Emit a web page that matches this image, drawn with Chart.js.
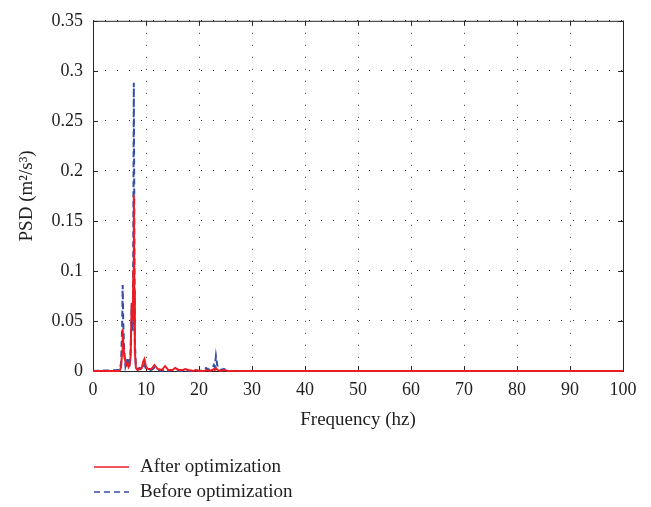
<!DOCTYPE html>
<html>
<head>
<meta charset="utf-8">
<script src="https://cdn.jsdelivr.net/npm/chart.js@4.4.0/dist/chart.umd.min.js"></script>
<style>
  html, body { margin: 0; padding: 0; background: #fff; }
  #wrap { width: 651px; height: 507px; }
</style>
</head>
<body>
<div id="wrap"><canvas id="psd-chart" width="651" height="507"></canvas></div>
<script>
// frequency (hz) and PSD values
let freq = [0, 5.0, 5.3, 5.5, 5.6, 5.7, 5.9, 6.1, 6.3, 6.5, 6.7, 6.9, 7.1, 7.3, 7.5, 7.6, 7.7, 7.8, 7.9, 8.1,
            8.4, 8.8, 9.2, 9.5, 9.7, 10.0, 10.4, 11.0, 11.6, 12.2, 13.0, 13.6, 14.2, 15.0, 15.5, 16.2, 17.0, 17.4, 18.0, 19.0,
            19.3, 20.0, 21.0, 21.3, 22.0, 22.5, 22.8, 23.0, 23.2, 23.5, 24.0, 24.7, 25.5, 30, 40, 50, 60, 70, 80, 90, 100];
let afterOpt = [0, 0, 0.004, 0.02, 0.042, 0.03, 0.015, 0.01, 0.006, 0.008, 0.004, 0.006, 0.015, 0.068, 0.05, 0.1, 0.176, 0.08, 0.02, 0.003,
                0.001, 0.002, 0.003, 0.01, 0.012, 0.004, 0.002, 0.002, 0.006, 0.002, 0.001, 0.005, 0.001, 0.001, 0.003, 0.001, 0.001, 0.002, 0.001, 0,
                0.001, 0, 0, 0.001, 0, 0.001, 0.002, 0.001, 0.003, 0.001, 0, 0.001, 0, 0, 0, 0, 0, 0, 0, 0, 0];
let beforeOpt = [0, 0.001, 0.008, 0.045, 0.086, 0.05, 0.02, 0.006, 0.013, 0.004, 0.013, 0.003, 0.02, 0.066, 0.04, 0.12, 0.288, 0.15, 0.03, 0.004,
                 0.002, 0.003, 0.001, 0.004, 0.006, 0.002, 0.001, 0.001, 0.003, 0.001, 0, 0.002, 0, 0.001, 0.001, 0, 0, 0.001, 0, 0,
                 0.001, 0, 0.001, 0.003, 0.001, 0.003, 0.006, 0.004, 0.015, 0.004, 0.001, 0.002, 0, 0, 0, 0, 0, 0, 0, 0, 0];
let xTicks = [0, 10, 20, 30, 40, 50, 60, 70, 80, 90, 100];
let yTicks = [0, 0.05, 0.1, 0.15, 0.2, 0.25, 0.3, 0.35];
let seriesNames = ['After optimization', 'Before optimization'];

const serif = '"Liberation Serif", "DejaVu Serif", serif';
const ink = '#1e1e1e';

function toPoints(ys) {
    return freq.map((f, i) => ({ x: f, y: ys[i] }));
}

// box round the plot with small inward ticks, matlab style
const boxTicks = {
    id: 'boxTicks',
    beforeDatasetsDraw(chart) {
        const { ctx, chartArea: a, scales } = chart;
        ctx.save();
        ctx.strokeStyle = '#262626';
        ctx.lineWidth = 1;
        ctx.strokeRect(a.left + 0.5, a.top + 0.5, a.right - a.left, a.bottom - a.top);
        ctx.beginPath();
        scales.x.ticks.forEach(t => {
            let px = Math.round(scales.x.getPixelForValue(t.value)) + 0.5;
            ctx.moveTo(px, a.bottom); ctx.lineTo(px, a.bottom - 5);
            ctx.moveTo(px, a.top); ctx.lineTo(px, a.top + 5);
        });
        scales.y.ticks.forEach(t => {
            let py = Math.round(scales.y.getPixelForValue(t.value)) + 0.5;
            ctx.moveTo(a.left, py); ctx.lineTo(a.left + 5, py);
            ctx.moveTo(a.right, py); ctx.lineTo(a.right - 5, py);
        });
        ctx.stroke();
        ctx.restore();
    }
};

// legend stacked under the axis, left side
const legendBelow = {
    id: 'legendBelow',
    afterDraw(chart) {
        const ctx = chart.ctx;
        ctx.save();
        chart.data.datasets.forEach((ds, i) => {
            let y = 467 + i * 25;
            ctx.strokeStyle = ds.borderColor;
            ctx.lineWidth = 1.5;
            ctx.setLineDash(ds.borderDash || []);
            ctx.beginPath();
            ctx.moveTo(94, y);
            ctx.lineTo(129, y);
            ctx.stroke();
            ctx.setLineDash([]);
            ctx.fillStyle = ink;
            ctx.font = '19px ' + serif;
            ctx.textBaseline = 'middle';
            ctx.fillText(ds.label, 140, y);
        });
        ctx.restore();
    }
};

new Chart('psd-chart', {
    type: 'line',
    data: {
        datasets: [
            {
                label: seriesNames[0],
                data: toPoints(afterOpt),
                borderColor: 'rgb(236, 28, 36)',
                borderWidth: 2,
                pointRadius: 0,
                tension: 0,
                clip: 3
            },
            {
                label: seriesNames[1],
                data: toPoints(beforeOpt),
                borderColor: 'rgb(52, 78, 168)',
                borderWidth: 2,
                borderDash: [6, 4],
                pointRadius: 0,
                tension: 0,
                clip: 3
            }
        ]
    },
    options: {
        responsive: false,
        animation: false,
        layout: { padding: { left: 0, right: 28, top: 12, bottom: 76 } },
        plugins: {
            legend: { display: false },
            tooltip: { enabled: false }
        },
        scales: {
            x: {
                type: 'linear',
                min: 0,
                max: 100,
                afterFit(scale) { scale.height = 60; },
                afterBuildTicks(scale) { scale.ticks = xTicks.map(v => ({ value: v })); },
                grid: { color: '#333', lineWidth: 1, drawTicks: false },
                border: { display: false, dash: [1, 11] },
                ticks: { padding: 8, color: ink, font: { family: serif, size: 18 }, maxRotation: 0, autoSkip: false,
                         callback: v => String(v) },
                title: { display: true, text: 'Frequency (hz)', color: ink, font: { family: serif, size: 19 }, padding: 0 }
            },
            y: {
                type: 'linear',
                min: 0,
                max: 0.35,
                afterFit(scale) { scale.width = 93; },
                afterBuildTicks(scale) { scale.ticks = yTicks.map(v => ({ value: v })); },
                grid: { color: '#333', lineWidth: 1, drawTicks: false },
                border: { display: false, dash: [1, 11] },
                ticks: { padding: 10, color: ink, font: { family: serif, size: 18 }, autoSkip: false,
                         callback: v => String(+v.toFixed(2)) },
                title: { display: true, text: 'PSD (m²/s³)', color: ink, font: { family: serif, size: 19 }, padding: { top: 16, bottom: 0 } }
            }
        }
    },
    plugins: [boxTicks, legendBelow]
});
</script>
</body>
</html>
